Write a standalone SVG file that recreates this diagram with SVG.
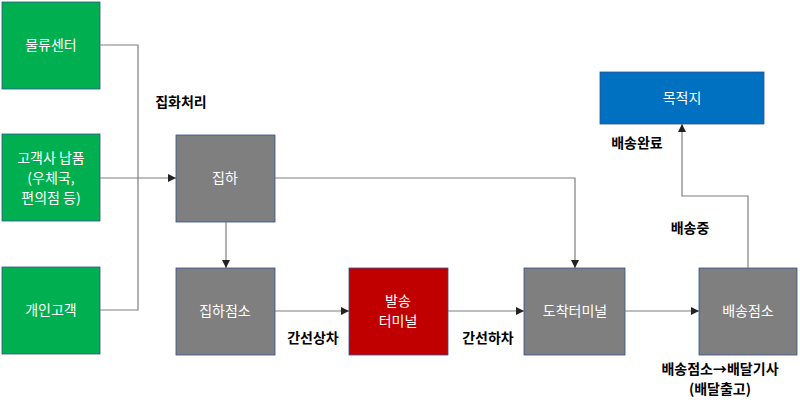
<svg xmlns="http://www.w3.org/2000/svg" width="800" height="407" viewBox="0 0 800 407">
<style>
text{font-family:"Noto Sans CJK KR","Noto Sans",sans-serif;font-size:14px;text-anchor:middle}
.w{fill:#fff}
.b{fill:#000;font-weight:bold}
.g{fill:#00b050;stroke:#2f528f;stroke-width:0.8}
.y{fill:#7f7f7f;stroke:#2f528f;stroke-width:0.8}
.r{fill:#c00000;stroke:#2f528f;stroke-width:0.8}
.u{fill:#0070c0;stroke:#2f528f;stroke-width:0.8}
.c{fill:none;stroke:#7f7f7f;stroke-width:1.2}
</style>
<defs><marker id="a" viewBox="0 0 10 10" refX="10" refY="5" markerWidth="7" markerHeight="7" orient="auto"><path d="M0,0L10,5L0,10z" fill="#222"/></marker></defs>
<g id="n1"><rect class="g" x="2" y="2" width="98" height="87"/><text class="w" x="51" y="50">물류센터</text></g>
<g id="n2"><rect class="g" x="2" y="134" width="98" height="87"/><text class="w" x="51" y="163">고객사 납품</text><text class="w" x="51" y="183">(우체국,</text><text class="w" x="51" y="203">편의점 등)</text></g>
<g id="n3"><rect class="g" x="2" y="267" width="98" height="87"/><text class="w" x="51" y="315">개인고객</text></g>
<g id="n4"><rect class="y" x="176" y="135" width="99" height="87"/><text class="w" x="225" y="183">집하</text></g>
<g id="n5"><rect class="y" x="176" y="268" width="99" height="87"/><text class="w" x="225" y="316">집하점소</text></g>
<g id="n6"><rect class="r" x="349" y="268" width="99" height="87"/><text class="w" x="398" y="306">발송</text><text class="w" x="398" y="326">터미널</text></g>
<g id="n7"><rect class="y" x="524" y="268" width="101" height="87"/><text class="w" x="575" y="316">도착터미널</text></g>
<g id="n8"><rect class="y" x="699" y="268" width="98" height="87"/><text class="w" x="748" y="316">배송점소</text></g>
<g id="n9"><rect class="u" x="600" y="72" width="164" height="52"/><text class="w" x="682" y="103">목적지</text></g>
<g id="connectors">
<path class="c" d="M100,45H138V310H100"/>
<path class="c" d="M100,178H176" marker-end="url(#a)"/>
<path class="c" d="M275,178H575V268" marker-end="url(#a)"/>
<path class="c" d="M226,222V268" marker-end="url(#a)"/>
<path class="c" d="M275,311H349" marker-end="url(#a)"/>
<path class="c" d="M448,311H524" marker-end="url(#a)"/>
<path class="c" d="M625,311H699" marker-end="url(#a)"/>
<path class="c" d="M748,268V196H682V124" marker-end="url(#a)"/>
</g>
<g id="labels">
<text class="b" x="181" y="107">집화처리</text>
<text class="b" x="637" y="148">배송완료</text>
<text class="b" x="690" y="233">배송중</text>
<text class="b" x="313" y="343">간선상차</text>
<text class="b" x="488" y="343">간선하차</text>
<text class="b" x="720" y="374">배송점소→배달기사</text>
<text class="b" x="720" y="394">(배달출고)</text>
</g>
</svg>
